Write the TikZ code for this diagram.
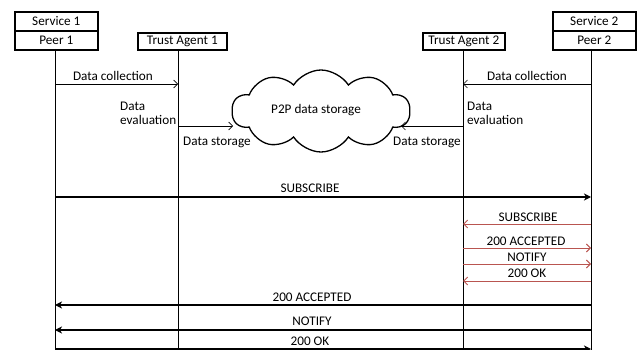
\documentclass[tikz,border=0pt]{standalone}
\usepackage{fontspec}
\setmainfont{Carlito}
\usetikzlibrary{arrows.meta,shapes.symbols}
\definecolor{msgred}{RGB}{185,85,80}
\begin{document}
\begin{tikzpicture}[x=1pt,y=-1pt,
  every node/.style={font=\fontsize{13.2}{15}\selectfont},
  hdr/.style={draw,line width=1.6pt,inner sep=0pt,anchor=north west},
  life/.style={line width=0.8pt},
  thin/.style={line width=0.7pt,-{Straight Barb[length=4pt,width=8pt]}},
  redmsg/.style={line width=0.9pt,draw=msgred,-{Straight Barb[length=4pt,width=8pt]}},
  bold/.style={line width=1.7pt,-{Stealth[length=7pt,width=7pt,inset=2pt]}},
  lbl/.style={anchor=base,inner sep=0pt},
  lbll/.style={anchor=base west,inner sep=0pt}]
\useasboundingbox (0,0) rectangle (640,350);
% header boxes
\node[hdr,minimum width=83pt,minimum height=19pt] (s1) at (14,11) {Service 1};
\node[hdr,minimum width=83pt,minimum height=19pt] (p1) at (14,30) {Peer 1};
\node[hdr,minimum width=89pt,minimum height=17pt] (ta1) at (137,32) {Trust Agent 1};
\node[hdr,minimum width=82pt,minimum height=17pt] (ta2) at (422,32) {Trust Agent 2};
\node[hdr,minimum width=83pt,minimum height=19pt] (s2) at (552,11) {Service 2};
\node[hdr,minimum width=83pt,minimum height=19pt] (p2) at (552,30) {Peer 2};
% lifeline coordinates
\coordinate (t1) at (55,49);  \coordinate (e1) at (55,351);
\coordinate (t2) at (178,49); \coordinate (e2) at (178,351);
\coordinate (t3) at (463,49); \coordinate (e3) at (463,351);
\coordinate (t4) at (591,49); \coordinate (e4) at (591,351);
\draw[life] (t1) -- (e1);
\draw[life] (t2) -- (e2);
\draw[life] (t3) -- (e3);
\draw[life] (t4) -- (e4);
\foreach \n/\y in {dc/84,ds/126,sub/197,rsub/224,racc/248,rnot/264,rok/281,acc/305,not/330,ok/349}{
  \coordinate (\n1) at (55,\y);
  \coordinate (\n2) at (178,\y);
  \coordinate (\n3) at (463,\y);
  \coordinate (\n4) at (591,\y);
}
% cloud
\node[cloud,draw,line width=1.3pt,cloud puffs=10,cloud puff arc=115,aspect=2.2,
  minimum width=178pt,minimum height=82pt,inner sep=0pt] (cl) at (321,111) {};
\node[lbl] (cltxt) at (316,114) {P2P data storage};
\coordinate (clw) at (233,126);
\coordinate (cle) at (401,126);
% data collection
\draw[thin] (dc1) -- (dc2);
\node[lbl] (dcl) at (113,81) {Data collection};
\draw[thin] (dc4) -- (dc3);
\node[lbl] (dcr) at (527,81) {Data collection};
% data evaluation
\node[lbll] (de1a) at (120,111) {Data};
\node[lbll] (de1b) at (120,124.5) {evaluation};
\node[lbll] (de2a) at (467,111) {Data};
\node[lbll] (de2b) at (467,124.5) {evaluation};
% data storage
\draw[thin] (ds2) -- (clw);
\node[lbll] (dsl) at (183,146) {Data storage};
\draw[thin] (ds3) -- (cle);
\node[lbll] (dsr) at (393,146) {Data storage};
% subscribe
\draw[bold] (sub1) -- (sub4);
\node[lbl] (subl) at (310,192) {SUBSCRIBE};
% red messages
\draw[redmsg] (rsub4) -- (rsub3);
\node[lbl] (rsubl) at (528,221) {SUBSCRIBE};
\draw[redmsg] (racc3) -- (racc4);
\node[lbl] (raccl) at (526,245) {200 ACCEPTED};
\draw[redmsg] (rnot3) -- (rnot4);
\node[lbl] (rnotl) at (527,261) {NOTIFY};
\draw[redmsg] (rok4) -- (rok3);
\node[lbl] (rokl) at (527,277.5) {200 OK};
% final messages
\draw[bold] (acc4) -- (acc1);
\node[lbl] (accl) at (312,301.5) {200 ACCEPTED};
\draw[bold] (not4) -- (not1);
\node[lbl] (notl) at (312,325.5) {NOTIFY};
\draw[bold] (ok1) -- (ok4);
\node[lbl] (okl) at (310,345) {200 OK};
\end{tikzpicture}
\end{document}
